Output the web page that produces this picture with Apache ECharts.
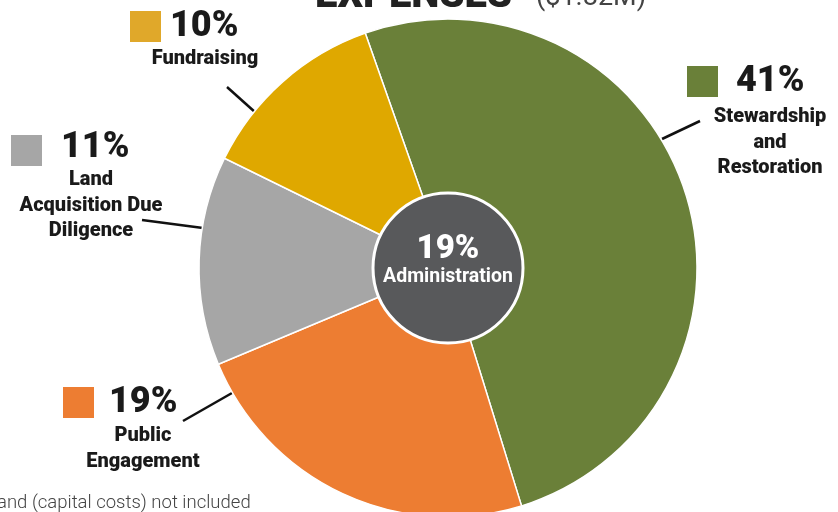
<!DOCTYPE html>
<html>
<head>
<meta charset="utf-8">
<script src="https://cdn.jsdelivr.net/npm/echarts@6/dist/echarts.min.js"></script>
<style>
html,body{margin:0;padding:0;background:#fff;}
#c{width:838px;height:512px;}
</style>
</head>
<body>
<div id="c"></div>
<script>
// ---- data ----
const titleMain = 'EXPENSES';
const titleSub = '($1.82M)';
const categories = ['Stewardship\nand\nRestoration', 'Public\nEngagement', 'Land\nAcquisition Due\nDiligence', 'Fundraising'];
const values = [41, 19, 11, 10];
const centerCategory = 'Administration';
const centerValue = 19;
const footnote = 'and (capital costs) not included';

// ---- styling / layout ----
const colors = ['#6a8039', '#ed7d32', '#a6a6a6', '#dfa800'];
const swatchColors = ['#6a8039', '#ed7d32', '#a6a6a6', '#e0a82a'];
const FONT = 'Roboto, "Liberation Sans", sans-serif';
const cx = 448, cy = 268, R = 249, r0 = 75;
const NAME_LH = 25.5;
// label layout per category: swatch box, pct text pos, name first-line center, leader line
const labelLayout = [
  {sq: [687, 66], pct: [736, 82], name: [770, 117], line: [[700, 121], [662, 139]]},
  {sq: [63, 387], pct: [109, 403], name: [143, 436], line: [[183, 421], [232, 393]]},
  {sq: [11, 135], pct: [61, 148], name: [91, 180], line: [[142, 220], [203, 228]]},
  {sq: [130, 11], pct: [170, 27], name: [205, 59], line: [[227, 87], [256, 113]]}
];

const graphic = [];
graphic.push({type: 'text', left: 315, top: -23, style: {text: titleMain, font: '900 40px ' + FONT, fill: '#222'}});
graphic.push({type: 'text', left: 536, top: -15, style: {text: titleSub, font: '400 27px ' + FONT, fill: '#444'}});
graphic.push({type: 'text', left: -3, top: 494, style: {text: footnote, font: '300 18.5px ' + FONT, fill: '#444'}});

categories.forEach((c, i) => {
  const L = labelLayout[i];
  graphic.push({type: 'rect', shape: {x: L.sq[0], y: L.sq[1], width: 31, height: 31}, style: {fill: swatchColors[i]}});
  graphic.push({type: 'text', x: L.pct[0], y: L.pct[1], style: {text: values[i] + '%', font: '900 36px ' + FONT, fill: '#1a1a1a', textVerticalAlign: 'middle'}});
  graphic.push({type: 'text', x: L.name[0], y: L.name[1] - NAME_LH / 2, style: {text: c, font: '900 20px ' + FONT, fill: '#1a1a1a', textAlign: 'center', textVerticalAlign: 'top', lineHeight: NAME_LH}});
  graphic.push({type: 'line', shape: {x1: L.line[0][0], y1: L.line[0][1], x2: L.line[1][0], y2: L.line[1][1]}, style: {stroke: '#111', lineWidth: 2.5}});
});

const chart = echarts.init(document.getElementById('c'), null, {renderer: 'canvas'});
chart.setOption({
  animation: false,
  backgroundColor: '#fff',
  graphic: graphic,
  series: [
    {
      type: 'pie',
      center: [cx, cy],
      radius: [0, R],
      startAngle: 109.4,
      clockwise: true,
      label: {show: false},
      labelLine: {show: false},
      itemStyle: {borderColor: '#fff', borderWidth: 1.5},
      data: categories.map((c, i) => ({name: c, value: values[i], itemStyle: {color: colors[i]}}))
    },
    {
      type: 'pie',
      center: [cx, cy],
      radius: [0, r0],
      z: 5,
      itemStyle: {color: '#58595b', borderColor: '#fff', borderWidth: 3},
      label: {
        show: true,
        position: 'center',
        padding: [0, 0, 11, 0],
        formatter: p => '{a|' + p.value + '%}\n{b|' + p.name + '}',
        rich: {
          a: {fontFamily: FONT, fontWeight: 900, fontSize: 33, color: '#fff', lineHeight: 30},
          b: {fontFamily: FONT, fontWeight: 700, fontSize: 19.5, color: '#fff', lineHeight: 26}
        }
      },
      labelLine: {show: false},
      data: [{name: centerCategory, value: centerValue}]
    }
  ]
});
</script>
</body>
</html>
